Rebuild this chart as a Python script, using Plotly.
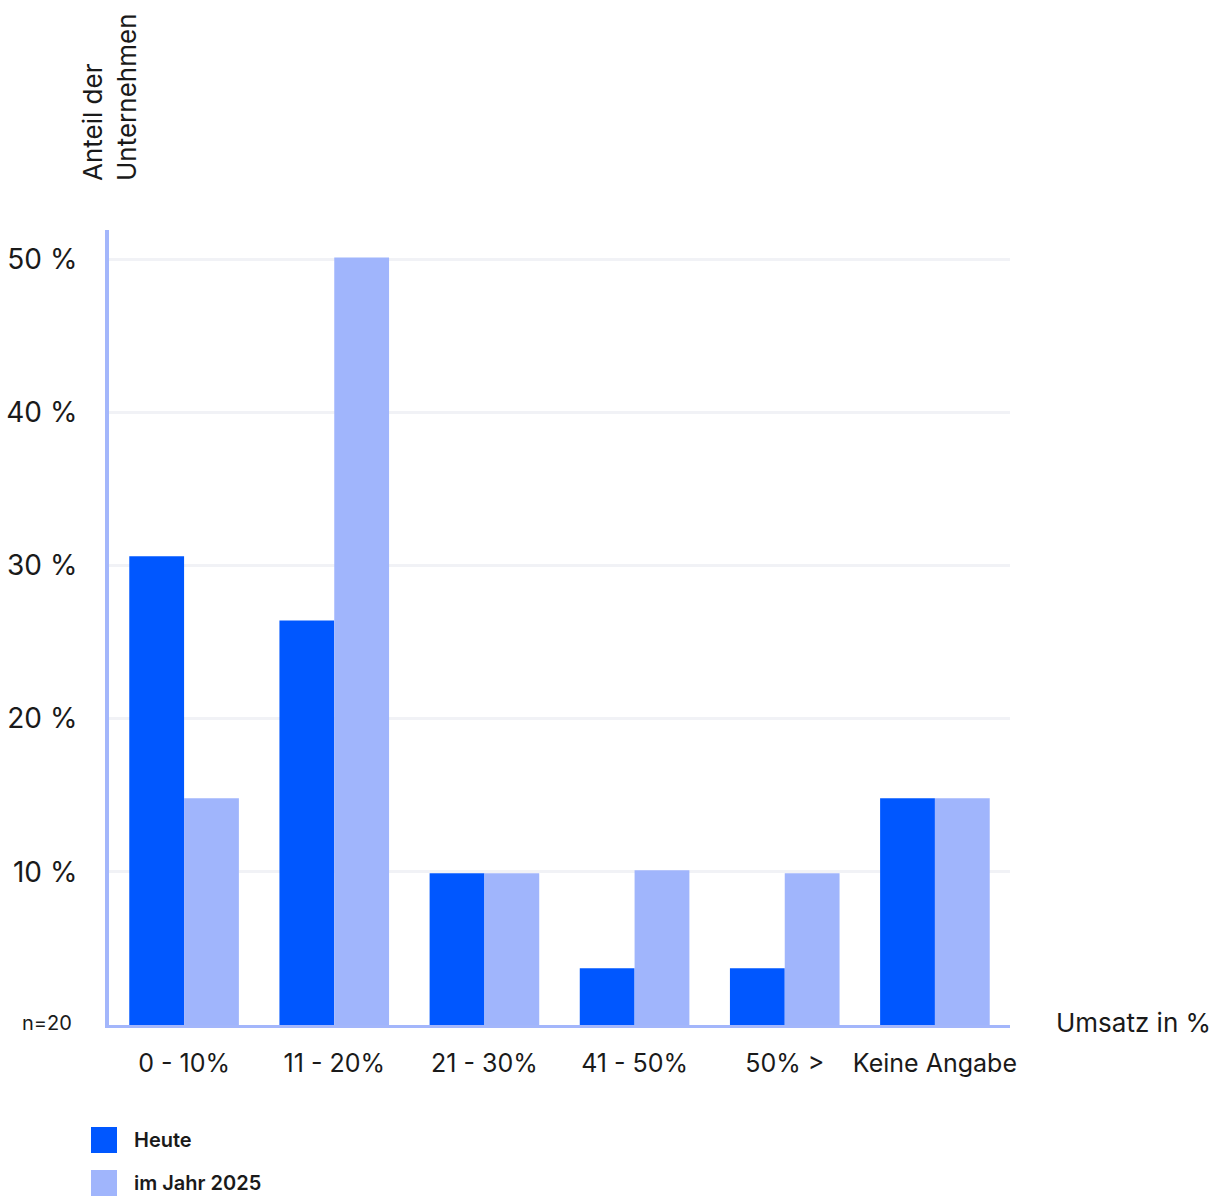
import plotly.graph_objects as go

categories = ["0 - 10%", "11 - 20%", "21 - 30%", "41 - 50%", "50% >", "Keine Angabe"]
heute = [30.6, 26.4, 9.9, 3.7, 3.7, 14.8]
jahr_2025 = [14.8, 50.1, 9.9, 10.1, 9.9, 14.8]
series_names = ["Heute", "im Jahr 2025"]
y_ticks = [10, 20, 30, 40, 50]

W, H = 1217, 1197
L, R, T, B = 109, 1010, 230, 1025
FONT = "Inter, Noto Sans, sans-serif"
C_HEUTE = "#0057FF"
C_JAHR = "#A0B5FC"
C_AXIS = "#A3B6FB"
C_GRID = "#F1F2F6"
TXT = "#1a1a1a"

def px_x(px):
    return (px - L) / (R - L)

def px_y(py):
    return (B - py) / (B - T)

fig = go.Figure()
fig.add_trace(go.Bar(x=categories, y=heute, name=series_names[0],
                     marker=dict(color=C_HEUTE, line=dict(width=0)), showlegend=False))
fig.add_trace(go.Bar(x=categories, y=jahr_2025, name=series_names[1],
                     marker=dict(color=C_JAHR, line=dict(width=0)), showlegend=False))

fig.update_layout(
    width=W, height=H,
    margin=dict(l=L, r=W - R, t=T, b=H - B, pad=0, autoexpand=False),
    paper_bgcolor="white", plot_bgcolor="white",
    barmode="group", bargap=0.27, bargroupgap=0,
    font=dict(family=FONT, color=TXT),
    showlegend=False,
)
fig.update_xaxes(
    automargin=False,
    showline=True, linecolor=C_AXIS, linewidth=3, showgrid=False, ticks="",
    tickfont=dict(size=25, family=FONT, color=TXT), ticklabelstandoff=14,
)
fig.update_yaxes(
    automargin=False,
    range=[0, (B - T) / ((B - 259) / 50)],
    showline=True, linecolor=C_AXIS, linewidth=4,
    showgrid=True, gridcolor=C_GRID, gridwidth=3, zeroline=False,
    tickvals=y_ticks, ticktext=[f"{v} %" for v in y_ticks], ticks="",
    tickfont=dict(size=28, family=FONT, color=TXT), ticklabelstandoff=22,
)

annotations = [
    dict(text="Anteil der<br>Unternehmen", textangle=-90, x=px_x(109), y=px_y(183),
         xanchor="center", yanchor="bottom", align="left", showarrow=False,
         font=dict(size=26, family=FONT, color=TXT)),
    dict(text="n=20", x=px_x(74), y=px_y(1023), xanchor="right", yanchor="middle",
         showarrow=False, font=dict(size=20, family=FONT, color=TXT)),
    dict(text="Umsatz in %", x=px_x(1054), y=px_y(1022), xanchor="left", yanchor="middle",
         showarrow=False, font=dict(size=26, family=FONT, color=TXT)),
]
shapes = []
legend_rows = [(series_names[0], C_HEUTE, 1127), (series_names[1], C_JAHR, 1170)]
for name, color, top in legend_rows:
    shapes.append(dict(type="rect", xref="paper", yref="paper",
                       x0=px_x(91), x1=px_x(117), y0=px_y(top + 26), y1=px_y(top),
                       fillcolor=color, line=dict(width=0)))
    annotations.append(dict(text=name, x=px_x(132), y=px_y(top + 13),
                            xanchor="left", yanchor="middle", showarrow=False,
                            font=dict(size=20, family=FONT, color=TXT, weight=600)))
for a in annotations:
    a.setdefault("xref", "paper")
    a.setdefault("yref", "paper")
fig.update_layout(annotations=annotations, shapes=shapes)

fig.write_html("out.html")
